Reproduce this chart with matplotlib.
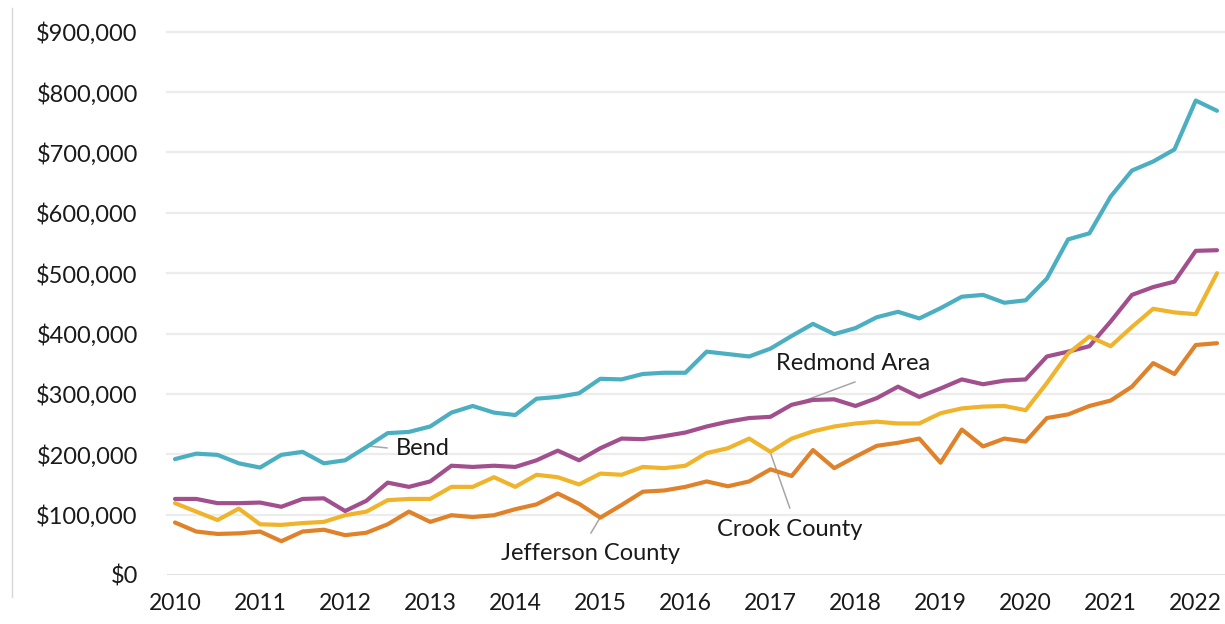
import matplotlib
matplotlib.use('Agg')
import matplotlib.pyplot as plt
from matplotlib.ticker import FuncFormatter

# quarterly median home prices, 2010 Q1 - 2022 Q2 (thousands of dollars)
years = ['2010', '2011', '2012', '2013', '2014', '2015', '2016',
         '2017', '2018', '2019', '2020', '2021', '2022']

bend = [192, 201, 199, 185, 178, 199, 204, 185, 190, 212,
        235, 237, 246, 269, 280, 269, 265, 292, 295, 301,
        325, 324, 333, 335, 335, 370, 366, 362, 375, 396,
        416, 399, 409, 427, 436, 425, 442, 461, 464, 451,
        455, 491, 556, 566, 627, 670, 685, 705, 786, 769]

redmond = [126, 126, 119, 119, 120, 113, 126, 127, 106, 123,
           153, 146, 155, 181, 179, 181, 179, 190, 206, 190,
           210, 226, 225, 230, 236, 246, 254, 260, 262, 282,
           290, 291, 280, 293, 312, 295, 309, 324, 316, 322,
           324, 362, 370, 379, 420, 464, 477, 486, 537, 538]

crook = [119, 105, 91, 110, 84, 83, 86, 88, 99, 105,
         124, 126, 126, 146, 146, 162, 146, 166, 162, 150,
         168, 166, 179, 177, 181, 202, 210, 226, 204, 226,
         238, 246, 251, 254, 251, 251, 268, 276, 279, 280,
         273, 318, 367, 395, 379, 411, 441, 435, 432, 500]

jefferson = [87, 72, 68, 69, 72, 56, 72, 75, 66, 70,
             84, 105, 88, 99, 96, 99, 109, 117, 135, 118,
             95, 116, 138, 140, 146, 155, 147, 155, 175, 164,
             207, 177, 196, 214, 219, 226, 186, 241, 213, 226,
             221, 260, 266, 280, 289, 312, 351, 333, 381, 384]

plt.rcParams['font.family'] = ['Lato', 'DejaVu Sans']

fig = plt.figure(figsize=(12.25, 6.24), dpi=100)
ax = fig.add_axes([167 / 1225, 49 / 624, 1058 / 1225, 543.3 / 624])

quarters = list(range(len(bend)))
series = [(bend, '#4bafc1'), (redmond, '#a24f8e'),
          (crook, '#efb42c'), (jefferson, '#df8229')]
for values, color in series:
    ax.plot(quarters, [v * 1000 for v in values], color=color, lw=3.0,
            solid_joinstyle='round', solid_capstyle='round', zorder=3)

ax.set_xlim(-0.376, 49.376)
ax.set_ylim(0, 900000)
ax.set_yticks(range(0, 900001, 100000))
ax.yaxis.set_major_formatter(FuncFormatter(lambda v, p: '${:,.0f}'.format(v)))
ax.set_xticks(range(0, len(bend), 4))
ax.set_xticklabels(years)
ax.tick_params(axis='y', length=0, pad=21, labelsize=17, labelcolor='#1a1a1a')
ax.tick_params(axis='x', length=0, pad=13, labelsize=16.5, labelcolor='#1a1a1a')

for t in range(100000, 900001, 100000):
    ax.axhline(t, color='#ececec', lw=1.6, zorder=1, clip_on=False)
ax.axhline(0, color='#d6d6d6', lw=1.8, zorder=1)

for s in ax.spines.values():
    s.set_visible(False)

# series labels with leader lines
leader = dict(color='#a6a6a6', lw=1.1, zorder=2)
ax.plot([9.07, 9.97], [213700, 210500], **leader)
ax.text(10.39, 210000, 'Bend', fontsize=17, va='center', color='#1a1a1a')

ax.plot([29.06, 31.97], [281600, 319700], **leader)
ax.text(28.26, 351000, 'Redmond Area', fontsize=17, va='center', color='#1a1a1a')

ax.plot([28.02, 28.91], [200400, 111000], **leader)
ax.text(25.48, 76000, 'Crook County', fontsize=17, va='center', color='#1a1a1a')

ax.plot([19.98, 19.56], [94400, 69600], **leader)
ax.text(15.33, 36400, 'Jefferson County', fontsize=17, va='center', color='#1a1a1a')

# left frame edge
fig.add_artist(plt.Line2D([12 / 1225, 12 / 1225], [27 / 624, 616 / 624],
                          color='#d8d8d8', lw=1.0))

plt.savefig('out.png', dpi=100)
